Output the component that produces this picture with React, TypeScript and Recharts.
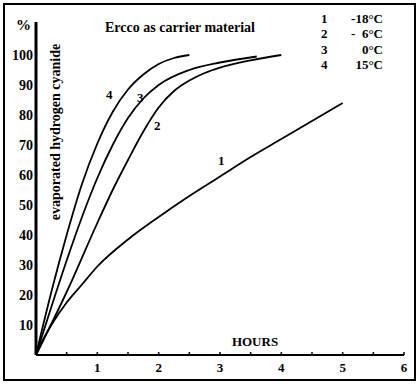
import React from 'react';
import { LineChart, Line, XAxis, YAxis } from 'recharts';

// hours / % evaporated
const hours1 = [0, 0.1, 0.25, 0.5, 0.75, 1, 1.5, 2, 2.5, 3, 3.5, 4, 4.5, 5];
const pct1 = [0, 4.5, 10, 17.5, 23.5, 29.5, 38.5, 46, 53, 59.5, 66, 72, 78, 84];

const hours2 = [0, 0.5, 1, 1.25, 1.5, 1.75, 2, 2.25, 2.5, 2.75, 3, 3.5, 4];
const pct2 = [0, 21, 44, 55, 65, 74.5, 82.5, 88, 91.5, 94, 95.8, 98.2, 100];

const hours3 = [0, 0.25, 0.5, 0.75, 1, 1.25, 1.5, 1.75, 2, 2.5, 3, 3.6];
const pct3 = [0, 16, 31.5, 46, 59, 70, 79, 85.5, 90, 95, 97.5, 99.5];

const hours4 = [0, 0.25, 0.5, 0.75, 1, 1.25, 1.5, 1.75, 2, 2.25, 2.5];
const pct4 = [0, 21, 40, 57, 70.5, 81, 88.5, 93.5, 97, 99, 100];

const xTicks = [0.5, 1, 1.5, 2, 2.5, 3, 3.5, 4, 4.5, 5, 5.5, 6];
const yTicks = [10, 20, 30, 40, 50, 60, 70, 80, 90, 100];

const legendNums = ['1', '2', '3', '4'];
const legendTemps = ['-18°C', '-  6°C', '0°C', '15°C'];

const serif = '"Liberation Serif", "DejaVu Serif", serif';

const toRows = (hs: number[], ps: number[]) => hs.map((h, i) => ({ h, v: ps[i] }));

const series = [
  { key: 's1', data: toRows(hours1, pct1) },
  { key: 's2', data: toRows(hours2, pct2) },
  { key: 's3', data: toRows(hours3, pct3) },
  { key: 's4', data: toRows(hours4, pct4) },
];

function HourTick(props: any) {
  const { x, y, payload } = props;
  const v = payload.value;
  const isInt = Number.isInteger(v);
  return (
    <g>
      <line x1={x} x2={x} y1={y - 3} y2={y} stroke="#000" strokeWidth={1.5} />
      {isInt && (
        <text x={x} y={y + 17} textAnchor="middle" fontFamily={serif} fontWeight="bold" fontSize={13} fill="#000">
          {v}
        </text>
      )}
    </g>
  );
}

export default function App() {
  return (
    <div style={{ position: 'absolute', left: 0, top: 0, width: 420, height: 384, background: '#fff' }}>
      <LineChart width={420} height={384} margin={{ top: 22, right: 16, bottom: 0, left: 0 }}>
        <XAxis
          type="number"
          dataKey="h"
          domain={[0, 6]}
          ticks={xTicks}
          tick={<HourTick />}
          tickLine={false}
          tickSize={0}
          tickMargin={0}
          height={29}
          axisLine={{ stroke: '#000', strokeWidth: 2 }}
          allowDataOverflow
        />
        <YAxis
          type="number"
          domain={[0, 111]}
          ticks={yTicks}
          width={36}
          tickLine={false}
          tickSize={0}
          tickMargin={3}
          axisLine={{ stroke: '#000', strokeWidth: 3 }}
          tick={{ fill: '#000', fontFamily: serif, fontWeight: 'bold', fontSize: 14 }}
          allowDataOverflow
        />
        {series.map((s) => (
          <Line
            key={s.key}
            data={s.data}
            dataKey="v"
            type="monotone"
            stroke="#000"
            strokeWidth={1.8}
            dot={false}
            activeDot={false}
            isAnimationActive={false}
          />
        ))}
      </LineChart>

      <svg
        width={420}
        height={384}
        style={{ position: 'absolute', left: 0, top: 0, pointerEvents: 'none' }}
        fontFamily={serif}
        fontWeight="bold"
        fill="#000"
      >
        <rect x={4} y={4} width={411} height={376} fill="none" stroke="#000" strokeWidth={2} />
        <text x={16} y={30} fontSize={15}>%</text>
        <text x={105} y={32} fontSize={14}>Ercco as carrier material</text>
        {legendNums.map((n, i) => (
          <g key={n}>
            <text x={321} y={23 + i * 15.3} fontSize={13}>{n}</text>
            <text x={383} y={23 + i * 15.3} fontSize={13} textAnchor="end" style={{ whiteSpace: 'pre' }}>
              {legendTemps[i]}
            </text>
          </g>
        ))}
        <text x={60} y={132} fontSize={14} textAnchor="middle" transform="rotate(-90 60 132)">
          evaporated hydrogen cyanide
        </text>
        <text x={255} y={346} fontSize={13} textAnchor="middle">HOURS</text>
        <text x={106} y={99} fontSize={13}>4</text>
        <text x={137} y={102} fontSize={13}>3</text>
        <text x={154} y={130} fontSize={13}>2</text>
        <text x={218} y={165} fontSize={13}>1</text>
      </svg>
    </div>
  );
}
